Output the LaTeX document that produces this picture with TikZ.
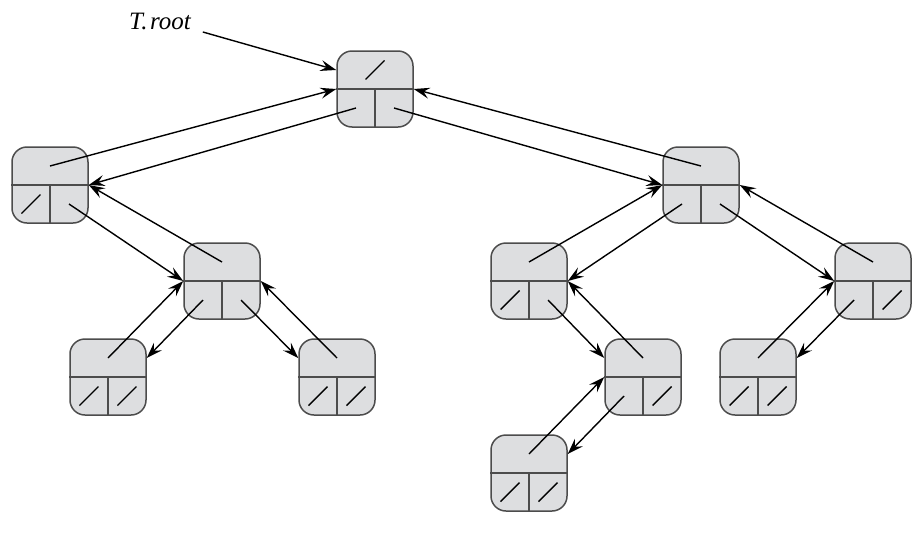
\documentclass[tikz,border=0pt]{standalone}
\usepackage{fontspec}
\setmainfont{Liberation Serif}
\usetikzlibrary{calc,arrows.meta}
\definecolor{nodegray}{RGB}{221,222,224}

\tikzset{
    cell/.style={draw=black!70, fill=nodegray, rounded corners=7.5pt, minimum width=38pt, minimum height=38pt, inner sep=0pt, line width=0.75pt},
    divline/.style={black!70, line width=0.75pt},
    ptr/.style={line width=0.7pt, -{Stealth[length=8pt,width=5.5pt,inset=3pt]}},
    nilslash/.style={line width=0.7pt}
}

% one tree node: box, dividers and the three field points
\newcommand{\treenode}[3]{%
    \node[cell] (#1) at (#2,#3) {};
    \draw[divline] (#1.west) -- (#1.east) (#1.center) -- (#1.south);
    \coordinate (#1-p) at ($(#1)+(0,-19)$);
    \coordinate (#1-l) at ($(#1)+(-19,19)$);
    \coordinate (#1-r) at ($(#1)+(19,19)$);
    \coordinate (#1-wu) at ($(#1.west)+(0,-19)$);
    \coordinate (#1-eu) at ($(#1.east)+(0,-19)$);
}

\begin{document}
\begin{tikzpicture}[x=0.5pt, y=-0.5pt]
    \useasboundingbox (0,0) rectangle (921,536);

    % Draw the nodes
    \treenode{root}{375}{89}
    \treenode{l}{50}{185}
    \treenode{r}{701}{185}
    \treenode{lr}{222}{281}
    \treenode{rl}{529}{281}
    \treenode{rr}{873}{281}
    \treenode{lrl}{108}{377}
    \treenode{lrr}{337}{377}
    \treenode{rlr}{643}{377}
    \treenode{rrl}{758}{377}
    \treenode{rlrl}{529}{473}

    % Add NIL slashes
    \foreach \f in {root-p, l-l, rl-l, rr-r, lrl-l, lrl-r, lrr-l, lrr-r, rlr-r, rrl-l, rrl-r, rlrl-l, rlrl-r}
        \draw[nilslash] ($(\f)+(-9.5,9.5)$) -- ($(\f)+(9.5,-9.5)$);

    % Root pointer
    \node[font=\fontsize{12.5}{14}\selectfont\itshape] (troot) at (160,21) {T.\kern0.1em root};
    \draw[ptr] ($(troot.east)+(5,11)$) -- (root-wu);

    % Child pointers
    \draw[ptr] (root-l) -- (l.east);
    \draw[ptr] (root-r) -- (r.west);
    \draw[ptr] (l-r) -- (lr.west);
    \draw[ptr] (r-l) -- (rl.east);
    \draw[ptr] (r-r) -- (rr.west);
    \draw[ptr] (lr-l) -- (lrl-eu);
    \draw[ptr] (lr-r) -- (lrr-wu);
    \draw[ptr] (rl-r) -- (rlr-wu);
    \draw[ptr] (rr-l) -- (rrl-eu);
    \draw[ptr] (rlr-l) -- (rlrl-eu);

    % Parent pointers
    \foreach \c/\t in {l-p/root.west, r-p/root.east, lr-p/l.east, rl-p/r.west, rr-p/r.east, lrl-p/lr.west, lrr-p/lr.east, rlr-p/rl.east, rrl-p/rr.west, rlrl-p/rlr.west}
        \draw[ptr] (\c) -- (\t);
\end{tikzpicture}
\end{document}
